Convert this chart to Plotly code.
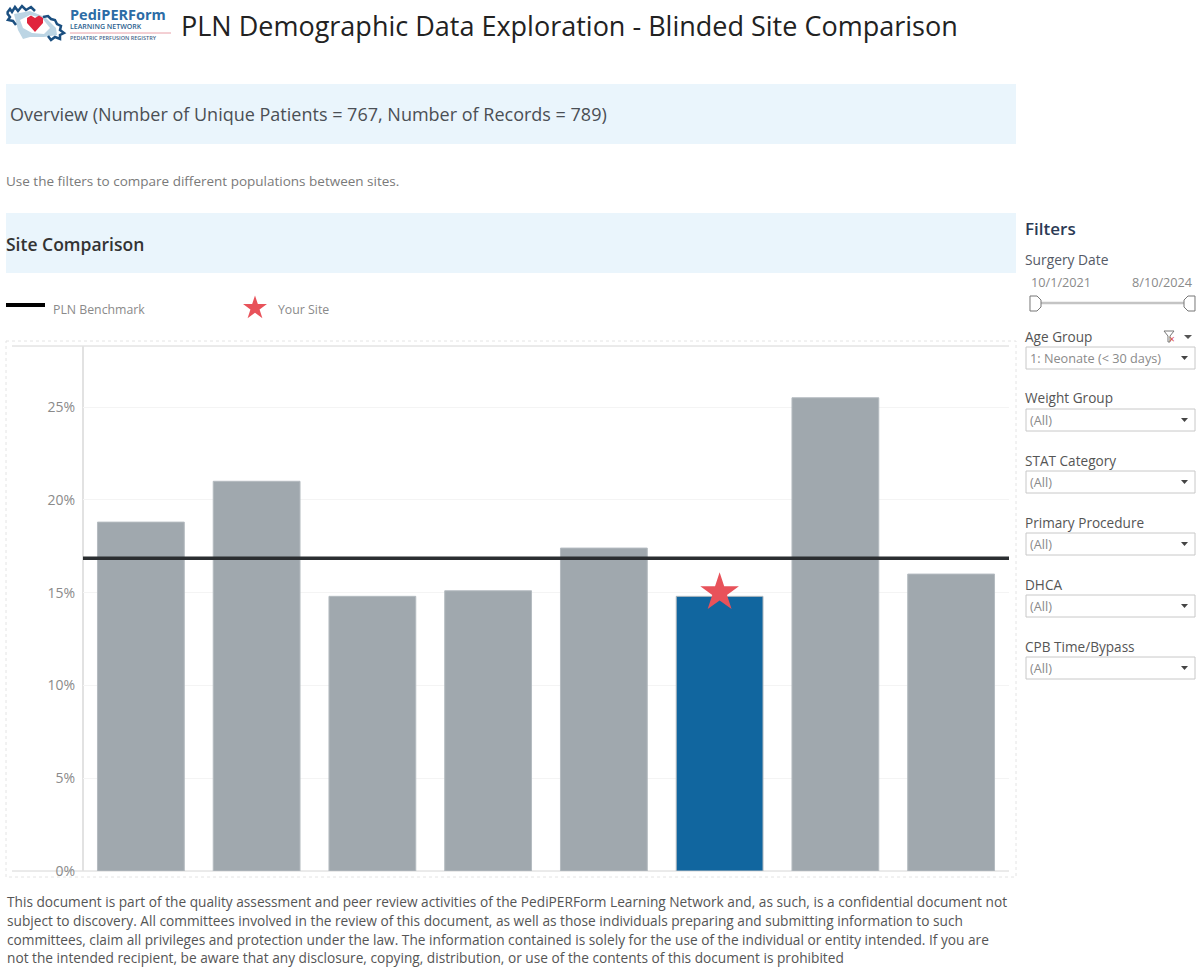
import plotly.graph_objects as go

W, H = 1200, 969

# values
sites = ['A', 'B', 'C', 'D', 'E', 'F', 'G', 'H']
rates = [18.8, 21.0, 14.8, 15.1, 17.4, 14.8, 25.5, 16.0]
bar_colors = ['#A0A8AE', '#A0A8AE', '#A0A8AE', '#A0A8AE', '#A0A8AE', '#11669F', '#A0A8AE', '#A0A8AE']
benchmark = 16.85
your_site = 'F'
your_rate = 15.0
y_ticks = [0, 5, 10, 15, 20, 25]
y_labels = ['0%', '5%', '10%', '15%', '20%', '25%']

filter_names = ['Age Group', 'Weight Group', 'STAT Category', 'Primary Procedure', 'DHCA', 'CPB Time/Bypass']
filter_values = ['1: Neonate (< 30 days)', '(All)', '(All)', '(All)', '(All)', '(All)']
filter_tops = [336, 398, 460, 522, 584, 646]

footer = [
    'This document is part of the quality assessment and peer review activities of the PediPERForm Learning Network and, as such, is a confidential document not',
    'subject to discovery. All committees involved in the review of this document, as well as those individuals preparing and submitting information to such',
    'committees, claim all privileges and protection under the law. The information contained is solely for the use of the individual or entity intended. If you are',
    'not the intended recipient, be aware that any disclosure, copying, distribution, or use of the contents of this document is prohibited',
]
footer_y = [901, 920, 939, 957]

FONT = 'Open Sans'


# pixel position in the page -> paper coordinates
def px(x):
    return x / W


def py(y):
    return 1 - y / H


def text(x, y, s, size=12, color='#555555', anchor='left', weight=None):
    fig.add_annotation(x=px(x), y=py(y), xref='paper', yref='paper', text=s, showarrow=False,
                       xanchor=anchor, yanchor='middle', borderpad=0, borderwidth=0,
                       font=dict(family=FONT, size=size, color=color, weight=weight))


def rect(x0, y0, x1, y1, fill='rgba(0,0,0,0)', line='rgba(0,0,0,0)', width=1, dash=None, layer='below'):
    fig.add_shape(type='rect', xref='paper', yref='paper', x0=px(x0), x1=px(x1), y0=py(y0), y1=py(y1),
                  fillcolor=fill, line=dict(color=line, width=width, dash=dash), layer=layer)


def hline(x0, x1, y, color, width=1, dash=None):
    fig.add_shape(type='line', xref='paper', yref='paper', x0=px(x0), x1=px(x1), y0=py(y), y1=py(y),
                  line=dict(color=color, width=width, dash=dash), layer='below')


def path(points, fill='rgba(0,0,0,0)', line='rgba(0,0,0,0)', width=1, closed=True):
    d = 'M ' + ' L '.join(f'{px(a):.5f},{py(b):.5f}' for a, b in points) + (' Z' if closed else '')
    fig.add_shape(type='path', xref='paper', yref='paper', path=d, fillcolor=fill,
                  line=dict(color=line, width=width))


fig = go.Figure()

fig.add_trace(go.Bar(x=sites, y=rates, marker=dict(color=bar_colors, line=dict(color='#B4BBC0', width=1)),
                     hoverinfo='skip', showlegend=False))
fig.add_trace(go.Scatter(x=[your_site], y=[your_rate], mode='markers',
                         marker=dict(symbol='star', size=29, color='#E8525A', line=dict(width=0)),
                         hoverinfo='skip', showlegend=False))
# legend star, on a second axis pair the size of the page
fig.add_trace(go.Scatter(x=[255], y=[308], xaxis='x2', yaxis='y2', mode='markers',
                         marker=dict(symbol='star', size=18, color='#E8525A', line=dict(width=0)),
                         hoverinfo='skip', showlegend=False))

fig.add_shape(type='line', xref='x domain', yref='y', x0=0, x1=1, y0=benchmark, y1=benchmark,
              line=dict(color='#2B2E31', width=3.5))

fig.update_layout(
    width=W, height=H, margin=dict(l=0, r=0, t=0, b=0, autoexpand=False), paper_bgcolor='white',
    plot_bgcolor='rgba(0,0,0,0)', bargap=0.25, showlegend=False, font=dict(family=FONT),
    xaxis=dict(domain=[px(83), px(1009)], showticklabels=False, ticks='', showgrid=False, zeroline=False,
               showline=False, categoryorder='array', categoryarray=sites, fixedrange=True, automargin=False),
    yaxis=dict(domain=[py(871), py(346)], range=[0, 28.29], tickvals=y_ticks, ticktext=y_labels,
               tickfont=dict(family=FONT, size=14, color='#8A8A8A'), ticks='', ticklabelstandoff=7,
               showgrid=True, gridcolor='#F4F4F4', gridwidth=1, zeroline=False, showline=False,
               fixedrange=True, automargin=False),
    xaxis2=dict(domain=[0, 1], range=[0, W], visible=False, anchor='y2', fixedrange=True, automargin=False),
    yaxis2=dict(domain=[0, 1], range=[H, 0], visible=False, anchor='x2', fixedrange=True, automargin=False),
)

# header
text(181, 25, 'PLN Demographic Data Exploration - Blinded Site Comparison', size=27, color='#222222')

# logo, drawn roughly
path([(14, 14), (30, 11), (45, 17), (56, 28), (57, 35), (44, 37), (30, 37), (23, 39), (18, 30)], '#BCD5E4')
path([(20, 20), (30, 15), (42, 18), (50, 28), (44, 34), (32, 33), (23, 28)], 'white')
path([(35, 32), (27, 23), (27, 18), (31, 15.5), (35, 18), (39, 15.5), (43, 18), (43, 23)], '#E0243C')
path([(7, 13), (10, 9), (12, 12), (15, 7), (18, 11), (22, 6), (26, 10), (31, 7), (35, 11)], line='#1B4F80', width=2.5, closed=False)
path([(7, 13), (10, 17), (8, 20), (13, 21), (16, 25)], line='#1B4F80', width=2.5, closed=False)
path([(43, 17), (48, 16), (51, 19), (55, 20), (57, 24), (61, 26), (60, 30), (64, 33), (60, 35), (60, 39), (55, 37), (51, 40), (48, 36)],
     line='#1B4F80', width=2.5, closed=False)
text(70, 14, 'PediPERForm', size=14.5, color='#2C6CA6', weight=700)
text(70, 27, 'LEARNING NETWORK', size=7, color='#2C5F8F', weight=600)
hline(70, 171, 33, '#E8A0A8', 1)
text(70, 38, 'PEDIATRIC PERFUSION REGISTRY', size=5.5, color='#45648A', weight=600)

# section bands
rect(6, 84, 1016, 144, fill='#EAF5FC')
text(10, 114, 'Overview (Number of Unique Patients = 767, Number of Records = 789)', size=18, color='#4A4F55')
text(6, 181, 'Use the filters to compare different populations between sites.', size=13.5, color='#7A7A7A')
rect(6, 213, 1016, 273, fill='#EAF5FC')
text(6, 244, 'Site Comparison', size=17.5, color='#333333', weight=600)

# chart legend
hline(6, 45, 305, '#000000', 4)
text(53, 309, 'PLN Benchmark', size=12.3, color='#8A8A8A')
text(278, 309, 'Your Site', size=12.3, color='#8A8A8A')

# chart frame
rect(6, 341, 1016, 877, line='#E4E4E4', width=1, dash='dot')
hline(12, 1009, 346, '#D6D6D6', 1)
hline(12, 1009, 871, '#D6D6D6', 1)
fig.add_shape(type='line', xref='paper', yref='paper', x0=px(83), x1=px(83), y0=py(346), y1=py(871),
              line=dict(color='#E2E2E2', width=2), layer='below')

# filters
text(1025, 228, 'Filters', size=17, color='#2B3A55', weight=600)
text(1025, 259, 'Surgery Date', size=13.8, color='#555A66')
text(1031, 282, '10/1/2021', size=12.7, color='#8A8A8A')
text(1193, 282, '8/10/2024', size=12.7, color='#8A8A8A', anchor='right')
hline(1038, 1184, 303, '#C4C4C4', 2.5)
path([(1030, 296), (1037, 296), (1041, 300), (1041, 307), (1037, 311), (1030, 311)], 'white', '#777777', 1)
path([(1195, 296), (1188, 296), (1184, 300), (1184, 307), (1188, 311), (1195, 311)], 'white', '#777777', 1)

for name, value, top in zip(filter_names, filter_values, filter_tops):
    text(1025, top, name, size=13.6, color='#555555')
    rect(1026, top + 11, 1195, top + 33, line='#C8C8C8', width=1)
    text(1030, top + 22, value, size=12.7, color='#8A8A8A')
    path([(1181, top + 20), (1188, top + 20), (1184.5, top + 24)], '#444444')

# clear-filter icon and menu arrow on Age Group
path([(1164, 331), (1174, 331), (1170, 336), (1170, 342), (1168, 342), (1168, 336)], 'white', '#777777', 1)
text(1172, 339, '×', size=10, color='#D9453D', anchor='center')
path([(1184, 335), (1192, 335), (1188, 339)], '#555555')

for line, y in zip(footer, footer_y):
    text(7, y, line, size=13.7, color='#555555')

# the page's default body margin would push the figure off by 8px
fig.write_html('out.html', config=dict(displayModeBar=False), post_script="document.body.style.margin='0';")
